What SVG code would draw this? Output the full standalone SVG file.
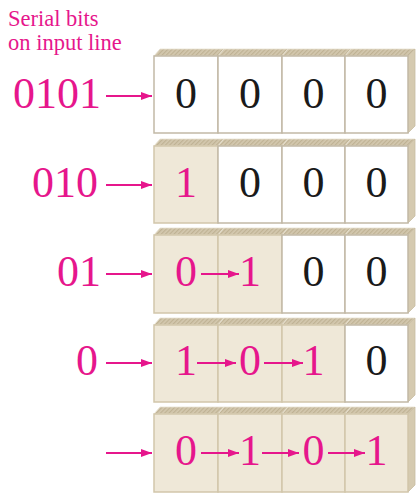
<svg xmlns="http://www.w3.org/2000/svg" width="418" height="495" viewBox="0 0 418 495">
<defs>
<pattern id="hatch" width="3" height="3" patternUnits="userSpaceOnUse" patternTransform="rotate(45)">
<rect width="3" height="3" fill="#d3c8ae"/>
<rect width="1.2" height="3" fill="#bfb294"/>
</pattern>
<marker id="ah" markerUnits="userSpaceOnUse" markerWidth="11" markerHeight="8" refX="11" refY="4" orient="auto">
<path d="M0,0 L11,4 L0,8 Z" fill="#e6168c"/>
</marker>
</defs>
<style>
.top{fill:url(#hatch);stroke:#e9e2d2;stroke-width:0.8}
.side{fill:#d5cab0;stroke:#c8bca2;stroke-width:0.8}
.w{fill:#ffffff;stroke:#c2b9a6;stroke-width:1.5}
.s{fill:#efe8d8;stroke:#d2c6ab;stroke-width:1.5}
.d{font-family:"Liberation Serif","Times New Roman",serif;font-size:44px;text-anchor:middle}
.k{fill:#1a1a1a}
.m{fill:#e6168c}
.lab{font-family:"Liberation Serif","Times New Roman",serif;font-size:44px;fill:#e6168c;text-anchor:end}
.cap{font-family:"Liberation Serif","Times New Roman",serif;font-size:22.5px;fill:#e6168c}
.ar{stroke:#e6168c;stroke-width:2;fill:none;marker-end:url(#ah)}
</style>
<rect width="418" height="495" fill="#ffffff"/>
<g id="caption">
<text class="cap" x="8" y="26">Serial bits</text>
<text class="cap" x="8" y="50">on input line</text>
</g>
<g id="row1">
<polygon class="top" points="154,56 160,49 224,49 218,56"/>
<polygon class="top" points="218,56 224,49 288,49 282,56"/>
<polygon class="top" points="282,56 288,49 351,49 345,56"/>
<polygon class="top" points="345,56 351,49 415,49 408,56"/>
<polygon class="side" points="408,56 415,49 415,126 408,133"/>
<rect class="w" x="154" y="56" width="64" height="77"/>
<rect class="w" x="218" y="56" width="64" height="77"/>
<rect class="w" x="282" y="56" width="63" height="77"/>
<rect class="w" x="345" y="56" width="63" height="77"/>
<text class="d k" x="186" y="108">0</text>
<text class="d k" x="250" y="108">0</text>
<text class="d k" x="313.5" y="108">0</text>
<text class="d k" x="376.5" y="108">0</text>
</g>
<g id="row2">
<polygon class="top" points="154,146 160,139 224,139 218,146"/>
<polygon class="top" points="218,146 224,139 288,139 282,146"/>
<polygon class="top" points="282,146 288,139 351,139 345,146"/>
<polygon class="top" points="345,146 351,139 415,139 408,146"/>
<polygon class="side" points="408,146 415,139 415,216 408,223"/>
<rect class="s" x="154" y="146" width="64" height="77"/>
<rect class="w" x="218" y="146" width="64" height="77"/>
<rect class="w" x="282" y="146" width="63" height="77"/>
<rect class="w" x="345" y="146" width="63" height="77"/>
<text class="d m" x="186" y="197">1</text>
<text class="d k" x="250" y="197">0</text>
<text class="d k" x="313.5" y="197">0</text>
<text class="d k" x="376.5" y="197">0</text>
</g>
<g id="row3">
<polygon class="top" points="154,235 160,228 224,228 218,235"/>
<polygon class="top" points="218,235 224,228 288,228 282,235"/>
<polygon class="top" points="282,235 288,228 351,228 345,235"/>
<polygon class="top" points="345,235 351,228 415,228 408,235"/>
<polygon class="side" points="408,235 415,228 415,306 408,313"/>
<rect class="s" x="154" y="235" width="64" height="78"/>
<rect class="s" x="218" y="235" width="64" height="78"/>
<rect class="w" x="282" y="235" width="63" height="78"/>
<rect class="w" x="345" y="235" width="63" height="78"/>
<text class="d m" x="186" y="286">0</text>
<text class="d m" x="250" y="286">1</text>
<text class="d k" x="313.5" y="286">0</text>
<text class="d k" x="376.5" y="286">0</text>
</g>
<g id="row4">
<polygon class="top" points="154,325 160,318 224,318 218,325"/>
<polygon class="top" points="218,325 224,318 288,318 282,325"/>
<polygon class="top" points="282,325 288,318 351,318 345,325"/>
<polygon class="top" points="345,325 351,318 415,318 408,325"/>
<polygon class="side" points="408,325 415,318 415,395 408,402"/>
<rect class="s" x="154" y="325" width="64" height="77"/>
<rect class="s" x="218" y="325" width="64" height="77"/>
<rect class="s" x="282" y="325" width="63" height="77"/>
<rect class="w" x="345" y="325" width="63" height="77"/>
<text class="d m" x="186" y="375">1</text>
<text class="d m" x="250" y="375">0</text>
<text class="d m" x="313.5" y="375">1</text>
<text class="d k" x="376.5" y="375">0</text>
</g>
<g id="row5">
<polygon class="top" points="154,414 160,407 224,407 218,414"/>
<polygon class="top" points="218,414 224,407 288,407 282,414"/>
<polygon class="top" points="282,414 288,407 351,407 345,414"/>
<polygon class="top" points="345,414 351,407 415,407 408,414"/>
<polygon class="side" points="408,414 415,407 415,485 408,492"/>
<rect class="s" x="154" y="414" width="64" height="78"/>
<rect class="s" x="218" y="414" width="64" height="78"/>
<rect class="s" x="282" y="414" width="63" height="78"/>
<rect class="s" x="345" y="414" width="63" height="78"/>
<text class="d m" x="186" y="465">0</text>
<text class="d m" x="250" y="465">1</text>
<text class="d m" x="313.5" y="465">0</text>
<text class="d m" x="376.5" y="465">1</text>
</g>
<g id="labels">
<text class="lab" x="101" y="108">0101</text>
<text class="lab" x="98" y="197">010</text>
<text class="lab" x="101" y="286">01</text>
<text class="lab" x="98" y="375">0</text>
</g>
<g id="connectors">
<line class="ar" x1="106" y1="96" x2="152" y2="96"/>
<line class="ar" x1="106" y1="185" x2="152" y2="185"/>
<line class="ar" x1="106" y1="274" x2="152" y2="274"/>
<line class="ar" x1="106" y1="363" x2="152" y2="363"/>
<line class="ar" x1="106" y1="453" x2="152" y2="453"/>
<line class="ar" x1="201" y1="274" x2="239" y2="274"/>
<line class="ar" x1="197" y1="363" x2="236" y2="363"/>
<line class="ar" x1="264" y1="363" x2="303" y2="363"/>
<line class="ar" x1="201" y1="453" x2="239" y2="453"/>
<line class="ar" x1="262" y1="453" x2="299" y2="453"/>
<line class="ar" x1="328" y1="453" x2="365" y2="453"/>
</g>
</svg>
